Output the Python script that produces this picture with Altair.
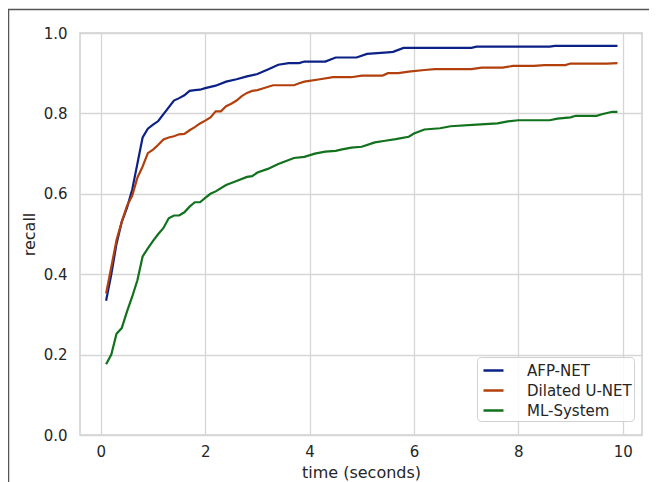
import altair as alt
import pandas as pd

series = ["AFP-NET", "Dilated U-NET", "ML-System"]
colors = ["#0b2185", "#b1400d", "#12711c"]

afp_t = [0.1, 0.2, 0.3, 0.4, 0.5, 0.6, 0.7, 0.8, 0.9, 1.0, 1.1, 1.2, 1.3, 1.4, 1.5, 1.6, 1.7, 1.8, 1.9, 2.0,
         2.2, 2.4, 2.6, 2.8, 3.0, 3.2, 3.4, 3.6, 3.8, 3.9, 4.3, 4.5, 4.9, 5.1, 5.3, 5.5, 5.6, 5.8, 7.1, 7.2,
         8.6, 8.7, 9.9]
afp_v = [0.334, 0.40, 0.476, 0.53, 0.565, 0.61, 0.675, 0.74, 0.762, 0.772, 0.781, 0.798, 0.815, 0.832, 0.838,
         0.845, 0.856, 0.858, 0.859, 0.863, 0.869, 0.879, 0.885, 0.892, 0.898, 0.909, 0.921, 0.925, 0.925, 0.929,
         0.929, 0.939, 0.939, 0.948, 0.950, 0.952, 0.953, 0.963, 0.963, 0.966, 0.966, 0.968, 0.968]

dil_t = [0.1, 0.2, 0.3, 0.4, 0.5, 0.6, 0.7, 0.8, 0.9, 1.0, 1.1, 1.2, 1.3, 1.4, 1.5, 1.6, 1.7, 1.8, 1.9, 2.0,
         2.1, 2.2, 2.3, 2.4, 2.5, 2.6, 2.7, 2.8, 2.9, 3.0, 3.1, 3.3, 3.7, 3.8, 3.9, 4.2, 4.45, 4.8, 5.0, 5.4,
         5.5, 5.7, 5.9, 6.2, 6.4, 7.1, 7.3, 7.7, 7.9, 8.3, 8.5, 8.9, 9.0, 9.7, 9.9]
dil_v = [0.352, 0.418, 0.485, 0.53, 0.57, 0.595, 0.64, 0.668, 0.701, 0.71, 0.722, 0.735, 0.74, 0.743, 0.748,
         0.749, 0.758, 0.766, 0.775, 0.782, 0.79, 0.805, 0.805, 0.818, 0.824, 0.832, 0.843, 0.851, 0.856, 0.858,
         0.862, 0.87, 0.87, 0.875, 0.879, 0.885, 0.89, 0.89, 0.894, 0.894, 0.9, 0.9, 0.904, 0.908, 0.91, 0.91,
         0.914, 0.914, 0.918, 0.918, 0.92, 0.92, 0.924, 0.924, 0.925]

ml_t = [0.1, 0.2, 0.3, 0.4, 0.5, 0.6, 0.7, 0.8, 0.9, 1.0, 1.1, 1.2, 1.3, 1.4, 1.5, 1.6, 1.7, 1.8, 1.9, 2.0,
        2.1, 2.2, 2.4, 2.6, 2.8, 2.9, 3.0, 3.2, 3.4, 3.5, 3.7, 3.9, 4.1, 4.3, 4.5, 4.6, 4.8, 5.0, 5.25, 5.45,
        5.65, 5.9, 6.0, 6.2, 6.5, 6.7, 7.2, 7.6, 7.8, 8.0, 8.6, 8.75, 9.0, 9.1, 9.5, 9.6, 9.8, 9.9]
ml_v = [0.176, 0.2, 0.252, 0.266, 0.307, 0.344, 0.385, 0.444, 0.464, 0.483, 0.5, 0.515, 0.539, 0.546, 0.546,
        0.554, 0.568, 0.579, 0.579, 0.59, 0.6, 0.606, 0.622, 0.632, 0.642, 0.644, 0.653, 0.662, 0.674, 0.679,
        0.689, 0.692, 0.7, 0.705, 0.707, 0.71, 0.715, 0.717, 0.728, 0.732, 0.736, 0.742, 0.75, 0.76, 0.763,
        0.768, 0.772, 0.775, 0.78, 0.783, 0.783, 0.787, 0.79, 0.794, 0.794, 0.798, 0.804, 0.804]

x_ticks = [0, 2, 4, 6, 8, 10]
y_ticks = [0.0, 0.2, 0.4, 0.6, 0.8, 1.0]

rows = []
for name, ts, vs in [(series[0], afp_t, afp_v), (series[1], dil_t, dil_v), (series[2], ml_t, ml_v)]:
    for t, v in zip(ts, vs):
        rows.append({"time": t, "recall": v, "model": name})
df = pd.DataFrame(rows)

FONT = "DejaVu Sans"
TXT = "#262626"

lines = alt.Chart(df).mark_line(strokeWidth=2.2, clip=True).encode(
    x=alt.X("time:Q",
            scale=alt.Scale(domain=[-0.4, 10.37], nice=False, zero=False),
            axis=alt.Axis(values=x_ticks, title="time (seconds)", format="d",
                          labelPadding=9, titlePadding=5)),
    y=alt.Y("recall:Q",
            scale=alt.Scale(domain=[0, 1], nice=False),
            axis=alt.Axis(values=y_ticks, title="recall", format=".1f",
                          labelPadding=13, titlePadding=6)),
    color=alt.Color("model:N", sort=series,
                    scale=alt.Scale(domain=series, range=colors),
                    legend=alt.Legend(title=None, orient="none", legendX=397, legendY=324,
                                      symbolType="stroke", symbolSize=400, symbolStrokeWidth=2.5,
                                      symbolOffset=3,
                                      labelFontSize=15, labelFont=FONT, labelColor=TXT,
                                      labelOffset=22, rowPadding=0, padding=2,
                                      strokeColor="#d0d0d0", fillColor="rgba(255,255,255,0.85)",
                                      cornerRadius=4)),
)

frame_df = pd.DataFrame({"k": [0]})
frame = alt.Chart(frame_df).mark_rect(filled=False, stroke="#555555", strokeWidth=1.5).encode(
    x=alt.value(-71.5), y=alt.value(-23.5), x2=alt.value(700), y2=alt.value(600)
)

chart = alt.layer(lines, frame).properties(
    width=562, height=402,
    autosize=alt.AutoSizeParams(type="none"),
    padding={"left": 72, "top": 25, "right": 7, "bottom": 60},
).configure_axis(
    labelFont=FONT, titleFont=FONT, labelFontSize=15, titleFontSize=16,
    labelColor=TXT, titleColor=TXT, titleFontWeight="normal",
    ticks=False, domain=False, grid=True, gridColor="#d6d6d6", gridWidth=1.3,
).configure_view(
    stroke="#cfcfcf", strokeWidth=1.5
)

chart.save("out.html", embed_options={"renderer": "svg", "actions": False})
